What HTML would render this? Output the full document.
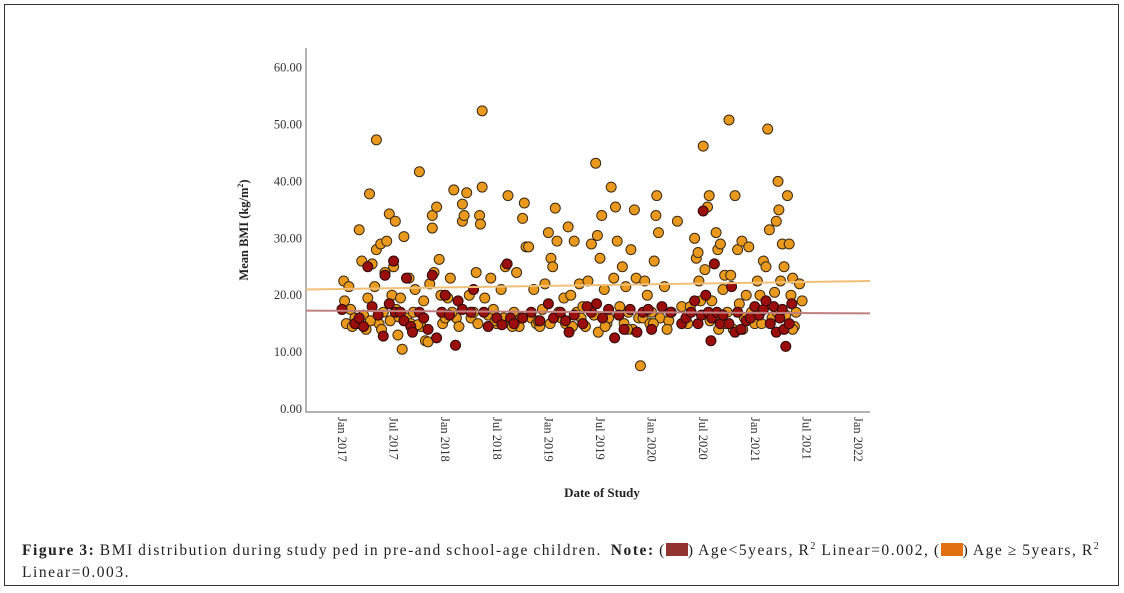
<!DOCTYPE html>
<html><head><meta charset="utf-8"><style>
html,body{margin:0;padding:0;background:#fff;width:1124px;height:593px;overflow:hidden}
#frame{position:absolute;left:4px;top:4px;width:1115px;height:582px;border:1px solid #333;box-sizing:border-box}
#cap{position:absolute;left:22px;top:536px;width:1095px;font-family:"Liberation Serif",serif;font-size:15.5px;letter-spacing:1.55px;word-spacing:-1px;line-height:22px;color:#222}
.sw{display:inline-block;width:22px;height:13px;vertical-align:-1px}
</style></head><body>
<div id="frame"></div>
<svg id="chart" width="1124" height="593" style="position:absolute;left:0;top:0" font-family="Liberation Serif, serif"></svg>
<div id="cap"><b>Figure 3:</b> BMI distribution during study ped in pre-and school-age children.&nbsp; <b>Note:</b> (<span class="sw" style="background:#93332f"></span>) Age&lt;5years, R<sup style="font-size:10px">2</sup> Linear=0.002, (<span class="sw" style="background:#e2700e"></span>) Age ≥ 5years, R<sup style="font-size:10px">2</sup> Linear=0.003.</div>
<script>
// months since Jan 2017, BMI
const orangeMonths=[0.2,0.3,0.5,0.8,1,1.5,1.8,2,2.3,2.5,3,3.2,3.5,3.8,4,4,4.3,4.5,4.8,5,5.2,5.5,5.6,5.8,6,6.2,6.3,6.5,6.8,7,7.2,7.5,7.8,8,8.3,8.5,9,9.2,9.5,9.7,10,10.2,10.5,10.5,10.7,11,11.3,11.5,11.7,12,12.3,12.6,13,13.3,13.6,14,14,14.2,14.5,14.8,15,15.3,15.6,16,16.1,16.3,16.3,16.6,17,17.3,17.6,18,18.5,18.8,19,19.3,19.5,20,20.3,20.6,21,21.2,21.4,21.7,22,22.3,22.6,23,23.3,23.6,24,24.3,24.5,24.8,25,25.2,25.5,25.8,26,26.3,26.6,27,27.3,27.6,28,28.3,28.6,29,29.3,29.5,29.7,30,30.2,30.5,30.8,31,31.3,31.6,31.8,32,32.3,32.6,33,33.3,33.6,33.8,34,34.2,34.5,34.7,35,35.2,35.5,35.8,36,36.3,36.5,36.6,36.8,37,37.5,38,38.3,39,39.5,40,40.5,41,41.2,41.4,41.5,41.7,42,42.2,42.5,42.7,43,43.3,43.5,43.7,44,44.3,44.5,44.8,45,45.2,45.5,45.7,46,46.2,46.5,46.8,47,47.3,47.6,48,48.3,48.6,49,49.3,49.5,49.7,50,50.3,50.5,50.7,50.8,51,51.2,51.4,51.6,51.8,52,52.2,52.4,52.6,52.8,53.2,53.5,1.2,2.8,3.3,4.6,6.6,8.8,12.8,15.8,17.8,19.8,20.8,22.8,24.2,26.8,27.8,29.8,30.6,32.8,33.2,36.2,37.8,40.2,42.8,43.8,44.6,46.6,48.8,50.6,52.4];
const orangeBMI=[22.5,19,15,21.5,17.5,16,15,31.5,26,16.5,19.5,37.8,25.5,21.5,47.3,28,15,29,17,24,29.5,34.3,15.5,20,25,33,17.5,13,19.5,10.5,30.3,16,23,15,17,21,41.7,14.5,19,12,11.8,22,31.8,34,24,35.5,26.3,20,15,16,19.5,23,38.5,16,14.5,36,33,34,38,20,16,17,24,34,32.5,39,52.4,19.5,16.5,23,17.5,15,21,16,25,37.5,15,17,24,14.5,33.5,36.2,28.5,28.5,16,21,15,14.5,17.5,22,31,26.5,25,35.3,29.5,17,16,19.5,15,32,20,29.5,17,22,18,14.5,22.5,29,16.5,43.2,30.5,26.5,34,21,15,16,39,23,35.5,29.5,18,25,21.5,17,28,14,35,23,16,7.6,16,22.5,20,15,17,26,34,37.5,31,16,21.5,15.5,17,33,18,16,18,30,26.5,27.5,22.5,19,46.2,24.5,35.5,37.5,19,16,31,28,29,21,23.5,17,50.8,23.5,14,37.5,28,18.5,29.5,16,20,28.5,17,15,22.5,20,26,25,49.2,31.5,16,20.5,33,40,35,22.5,29,25,16.5,37.5,29,20,23,14.5,17,22,19,14.5,14,15.5,14,16.2,14.8,17,15,15.5,14.5,16,15.5,15,14.5,16,13.5,14.5,15,14,15,14,15,15.5,14,15,14,15,17,14];
const redMonths=[0,1.5,2,3,3.5,4.2,4.8,5,5.5,6,6.2,6.8,7.2,7.5,8,8.2,9,9.5,10,10.5,11,11.6,12.5,13.2,13.5,14,15,15.3,16.5,17,18,19.2,19.6,20,21,22,23,24,24.6,25.4,26,26.4,27,28,29,29.6,30.3,31,31.7,32.2,32.8,33.5,34.3,35,35.6,36,37.2,38.2,39.5,40,40.6,41,41.4,41.8,42,42.3,42.6,42.9,43,43.3,43.6,44,44.3,45,45.3,45.7,46,46.4,47,47.5,48,48.5,49,49.3,49.8,50.2,50.5,50.9,51.2,51.4,51.6,52,52.3,28.5,18.6,12,2.5];
const redBMI=[17.5,15,16,25,18,16.5,12.8,23.5,18.5,26,17,17,15.5,23,14.5,13.5,17,16,14,23.5,12.5,17,16.5,11.2,19,17.5,17,21,17,14.5,16,25.5,16,15,16,17,15.5,18.5,16,17,15.5,13.5,16.5,15,17,18.5,16,17.5,12.5,16.5,14,17.5,13.5,17,17.5,14,18,17,15,16,17,19,15,16.5,34.8,20,17,12,16,25.5,17,15,16.5,15,21.5,13.5,17,14,15.5,16,18,16.5,17.5,19,15,18,13.5,16,17.5,14,11,15,18.5,18,14.8,20,14.5];
// fit lines: [BMI at x-axis start, BMI at x-axis end]
const orangeFit=[21.0,22.5];
const redFit=[17.3,16.8];
const yTicks=[0,10,20,30,40,50,60];
const xTickMonths=[0,6,12,18,24,30,36,42,48,54,60];
const xTickLabels=["Jan 2017","Jul 2017","Jan 2018","Jul 2018","Jan 2019","Jul 2019","Jan 2020","Jul 2020","Jan 2021","Jul 2021","Jan 2022"];

const NS="http://www.w3.org/2000/svg";
const svg=document.getElementById('chart');
const X0=306,X1=870,YB=412;
const xs=m=>342+m*8.6;
const ys=v=>409-v*5.69;
function mk(t,a,p){const e=document.createElementNS(NS,t);for(const k in a)e.setAttribute(k,a[k]);(p||svg).appendChild(e);return e;}

const ax=mk('path',{d:`M${X0},48V${YB}H${X1}`,fill:'none',stroke:'#999','stroke-width':1.5});



yTicks.forEach(v=>{
  const t=mk('text',{x:302,y:ys(v)+4,'text-anchor':'end','font-size':12.5,fill:'#333'});
  t.textContent=v.toFixed(2);
  
  
});
xTickMonths.forEach((m,i)=>{
  const x=xs(m);
  const t=mk('text',{x:0,y:0,transform:`translate(${x-4},417) rotate(90)`,'font-size':12.5,fill:'#333'});
  t.textContent=xTickLabels[i];
  
  
});
const yt=mk('text',{x:0,y:0,transform:'translate(248,230) rotate(-90)','text-anchor':'middle','font-size':12.5,'font-weight':'bold',fill:'#222'});
yt.innerHTML='Mean BMI (kg/m<tspan font-size="8" dy="-5">2</tspan><tspan dy="5">)</tspan>';


const xt=mk('text',{x:602,y:497,'text-anchor':'middle','font-size':13,'font-weight':'bold',fill:'#222'});
xt.textContent='Date of Study';



const gO=mk('g',{});


const gR=mk('g',{});


orangeMonths.forEach((m,i)=>{
  const c=mk('circle',{cx:xs(m),cy:ys(orangeBMI[i]),r:5,fill:'#e99a1e',stroke:'#3b2a12','stroke-width':1},gO);
  
  
});
redMonths.forEach((m,i)=>{
  const c=mk('circle',{cx:xs(m),cy:ys(redBMI[i]),r:5,fill:'#9b0e0e',stroke:'#2a0a0a','stroke-width':1},gR);
  
  
});
const lo=mk('line',{x1:X0,x2:X1,y1:ys(orangeFit[0]),y2:ys(orangeFit[1]),stroke:'#f0c078','stroke-width':2});


const lr=mk('line',{x1:X0,x2:X1,y1:ys(redFit[0]),y2:ys(redFit[1]),stroke:'#c08080','stroke-width':2});


</script>
</body></html>
